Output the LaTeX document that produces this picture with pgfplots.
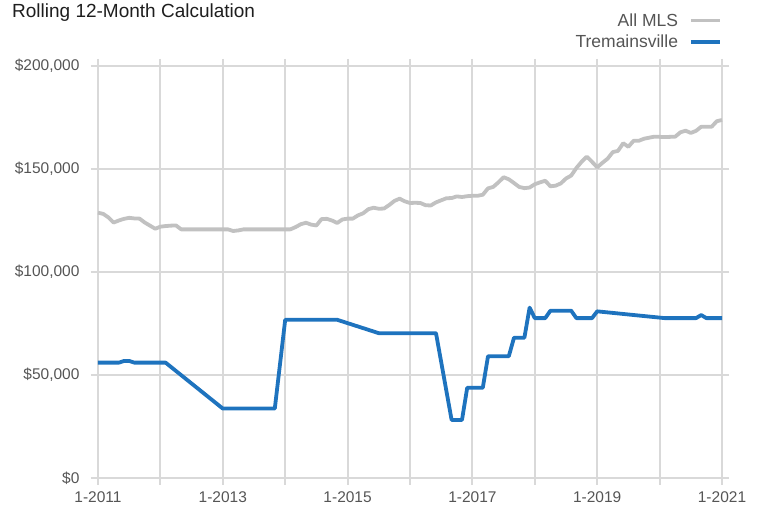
\documentclass[border=0pt]{standalone}
\usepackage{pgfplots}
\pgfplotsset{compat=1.18}
\usepackage{fontspec}
\setmainfont{Liberation Sans}
\definecolor{mlsgray}{RGB}{193,193,193}
\definecolor{tblue}{RGB}{30,115,190}
\definecolor{gridgray}{RGB}{217,217,217}
\definecolor{labgray}{RGB}{85,85,85}
\begin{document}
\begin{tikzpicture}
\path[use as bounding box] (0pt,0pt) rectangle (758pt,514pt);
\node[anchor=base west,inner sep=0pt,text={rgb,255:red,30;green,30;blue,30},font=\fontsize{19}{22}\selectfont] at (12pt,496.5pt) {Rolling 12-Month Calculation};
\begin{axis}[
  at={(98pt,36pt)}, anchor=south west,
  scale only axis, width=624pt, height=412pt,
  xmin=0, xmax=120, ymin=0, ymax=200000,
  clip=false,
  scaled y ticks=false,
  axis line style={draw=none},
  xtick={0,12,...,120},
  xticklabels={1-2011,,1-2013,,1-2015,,1-2017,,1-2019,,1-2021},
  ytick={0,50000,100000,150000,200000},
  yticklabels={{\$0},{\$50,000},{\$100,000},{\$150,000},{\$200,000}},
  grid=major,
  major grid style={gridgray, line width=2pt},
  tick align=outside,
  major tick length=7pt,
  tick style={gridgray, line width=2pt},
  ticklabel style={text=labgray, font=\fontsize{15.5}{18}\selectfont},
  xticklabel style={yshift=-3pt},
  yticklabel style={xshift=-8pt},
  legend plot pos=right,
  legend cell align=right,
  legend style={at={(rel axis cs:1,1)}, anchor=south east, yshift=15pt, draw=none, fill=none,
    font=\fontsize{17.5}{21}\selectfont, text=labgray, inner sep=0pt, row sep=3pt,
    /tikz/every odd column/.append style={column sep=9pt}},
  legend image code/.code={\draw[#1] (0pt,0pt) -- (29pt,0pt);},
]
\addplot[mlsgray, line width=3.8pt, line join=round] coordinates {
(0,128800)(1,128200)(2,126500)(3,124000)(4,125000)(5,125800)(6,126300)(7,126000)(8,125900)(9,124000)
(10,122500)(11,121000)(12,122000)(13,122300)(14,122500)(15,122600)(16,120700)(17,120700)(18,120700)(19,120700)
(20,120700)(21,120700)(22,120700)(23,120700)(24,120700)(25,120700)(26,119900)(27,120200)(28,120700)(29,120700)
(30,120700)(31,120700)(32,120700)(33,120700)(34,120700)(35,120700)(36,120700)(37,120700)(38,121800)(39,123200)
(40,123900)(41,123000)(42,122600)(43,125700)(44,125800)(45,125000)(46,123800)(47,125500)(48,125900)(49,125900)
(50,127500)(51,128500)(52,130500)(53,131200)(54,130700)(55,130800)(56,132500)(57,134500)(58,135600)(59,134300)
(60,133500)(61,133600)(62,133500)(63,132400)(64,132300)(65,133800)(66,134800)(67,135800)(68,135900)(69,136700)
(70,136400)(71,136800)(72,137000)(73,137000)(74,137500)(75,140600)(76,141300)(77,143500)(78,146000)(79,145000)
(80,143200)(81,141300)(82,140700)(83,141000)(84,142600)(85,143500)(86,144300)(87,141600)(88,141900)(89,143000)
(90,145400)(91,146800)(92,150500)(93,153500)(94,156000)(95,153500)(96,150800)(97,153000)(98,155000)(99,158200)
(100,158800)(101,162500)(102,160800)(103,163700)(104,163700)(105,164700)(106,165200)(107,165700)(108,165600)(109,165500)
(110,165600)(111,165700)(112,167800)(113,168600)(114,167500)(115,168500)(116,170500)(117,170500)(118,170500)(119,173200)
(120,173800)};
\addlegendentry{All MLS}
\addplot[tblue, line width=3.8pt, line join=round] coordinates {
(0,56000)(4,56000)(5,56800)(6,56800)(7,56000)(13,56000)(24,33700)(34,33700)(36,76800)(46,76800)
(54,70300)(65,70300)(68,28200)(70,28200)(71,43800)(74,43800)(75,59100)(79,59100)(80,68100)(82,68100)
(83,82700)(84,77600)(86,77600)(87,81200)(91,81200)(92,77600)(95,77600)(96,80900)(109,77600)(115,77600)
(116,79100)(117,77600)(120,77600)};
\addlegendentry{Tremainsville}
\end{axis}
\end{tikzpicture}
\end{document}
